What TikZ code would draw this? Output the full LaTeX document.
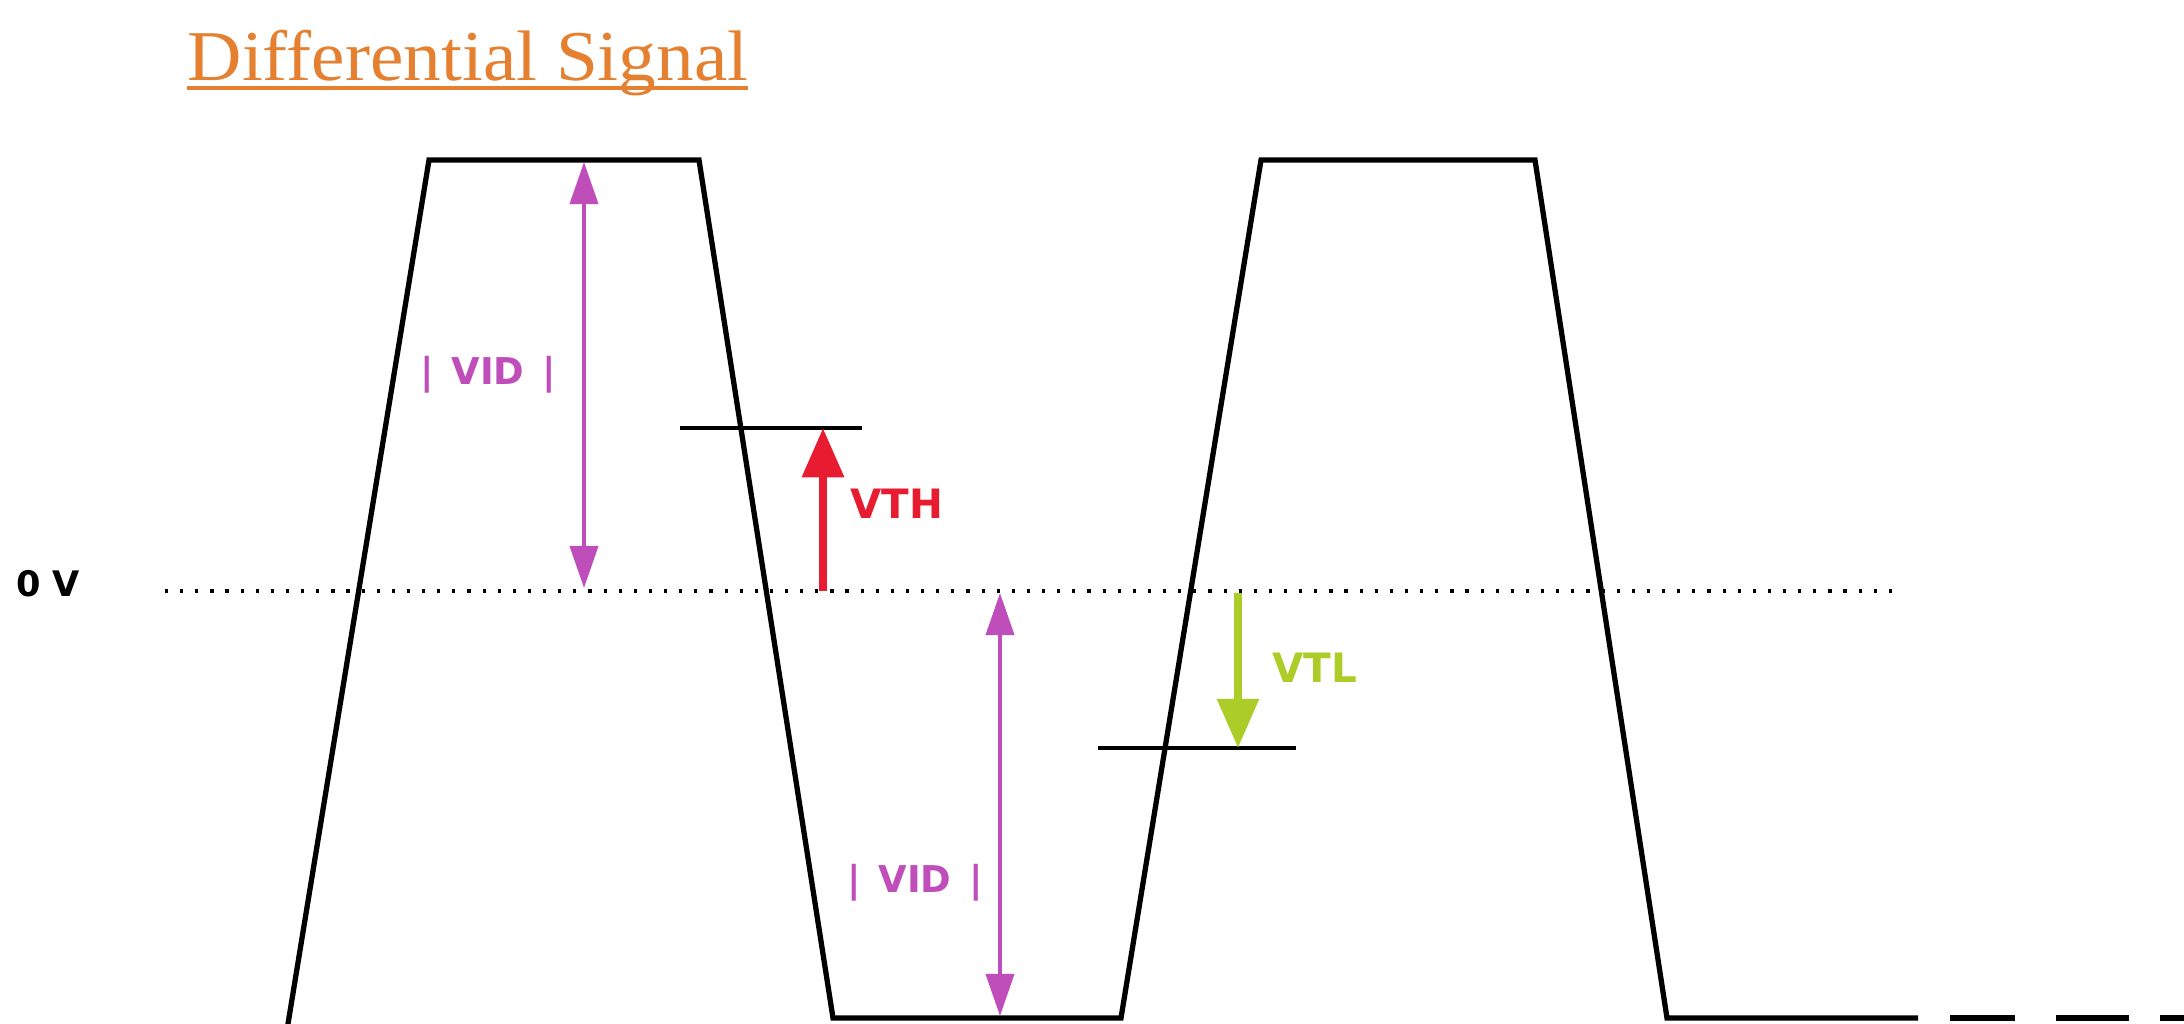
\documentclass[tikz,border=0pt]{standalone}
\usepackage{fontspec}
\setmainfont{Liberation Serif}
\newfontfamily\lblfont{DejaVu Sans}
\usetikzlibrary{arrows.meta}
\definecolor{titleorange}{RGB}{228,128,48}
\definecolor{vidpurple}{RGB}{192,78,186}
\definecolor{vthred}{RGB}{232,28,48}
\definecolor{vtlgreen}{RGB}{172,204,40}
\begin{document}
\begin{tikzpicture}[x=0.01cm,y=-0.01cm,
  wave/.style={line width=1.5pt, line join=miter},
  thresh/.style={line width=1.1pt},
  zeroline/.style={line width=0.9pt, dash pattern=on 0.9pt off 3.4pt},
  vidarrow/.style={vidpurple, line width=1.1pt, {Triangle[length=12pt,width=8pt]}-{Triangle[length=12pt,width=8pt]}},
  tharrow/.style={line width=2.3pt, -{Triangle[length=14pt,width=11.5pt]}},
  lbl/.style={font=\lblfont\bfseries\fontsize{10.5pt}{12pt}\selectfont, inner sep=0pt},
]
\useasboundingbox (0,0) rectangle (2184,1023);
% title
\node[anchor=base west, inner sep=0pt, text=titleorange] (title) at (187,80)
  {\scalebox{1}[0.95]{\fontsize{21.4pt}{24pt}\selectfont Differential Signal}};
\coordinate (ul1) at (187,88);
\coordinate (ul2) at (748,88);
\draw[titleorange, line width=0.9pt] (ul1) -- (ul2);
% waveform points
\coordinate (r1b) at (287,1030);
\coordinate (r1t) at (429,160);
\coordinate (f1t) at (699,160);
\coordinate (f1b) at (833,1018);
\coordinate (r2b) at (1121,1018);
\coordinate (r2t) at (1261,160);
\coordinate (f2t) at (1535,160);
\coordinate (f2b) at (1667,1018);
\coordinate (fe) at (1918,1018);
\coordinate (d1a) at (1950,1018);
\coordinate (d1b) at (2015,1018);
\coordinate (d2a) at (2056,1018);
\coordinate (d2b) at (2129,1018);
\coordinate (d3a) at (2160,1018);
\coordinate (d3b) at (2200,1018);
\draw[wave] (r1b) -- (r1t) -- (f1t) -- (f1b) -- (r2b) -- (r2t) -- (f2t) -- (f2b) -- (fe);
\draw[wave] (d1a) -- (d1b);
\draw[wave] (d2a) -- (d2b);
\draw[wave] (d3a) -- (d3b);
% zero line
\coordinate (zl) at (165,591);
\coordinate (zr) at (1900,591);
\draw[zeroline] (zl) -- (zr);
\node[lbl, font=\lblfont\bfseries\fontsize{10pt}{12pt}\selectfont] (zv) at (48,584) {0 V};
% thresholds
\coordinate (th1) at (680,428);
\coordinate (th2) at (862,428);
\draw[thresh] (th1) -- (th2);
\coordinate (tl1) at (1098,748);
\coordinate (tl2) at (1296,748);
\draw[thresh] (tl1) -- (tl2);
% VTH arrow
\coordinate (vthb) at (823,591);
\coordinate (vtht) at (823,428);
\draw[tharrow, vthred] (vthb) -- (vtht);
\node[lbl, text=vthred, font=\lblfont\bfseries\fontsize{11.5pt}{13pt}\selectfont] (vth) at (897,504) {VTH};
% VID arrows
\coordinate (vtlt) at (1238,593);
\coordinate (vtlb) at (1238,748);
\draw[tharrow, vtlgreen] (vtlt) -- (vtlb);
\node[lbl, text=vtlgreen, font=\lblfont\bfseries\fontsize{11.5pt}{13pt}\selectfont] (vtl) at (1315,668) {VTL};
\coordinate (v1t) at (584,162);
\coordinate (v1b) at (584,588);
\draw[vidarrow] (v1t) -- (v1b);
\node[lbl, text=vidpurple] (vid1) at (488,375) {|\hspace{5pt}VID\hspace{5pt}|};
\coordinate (v2t) at (1000,593);
\coordinate (v2b) at (1000,1016);
\draw[vidarrow] (v2t) -- (v2b);
\node[lbl, text=vidpurple] (vid2) at (915,883) {|\hspace{5pt}VID\hspace{5pt}|};
\end{tikzpicture}
\end{document}
